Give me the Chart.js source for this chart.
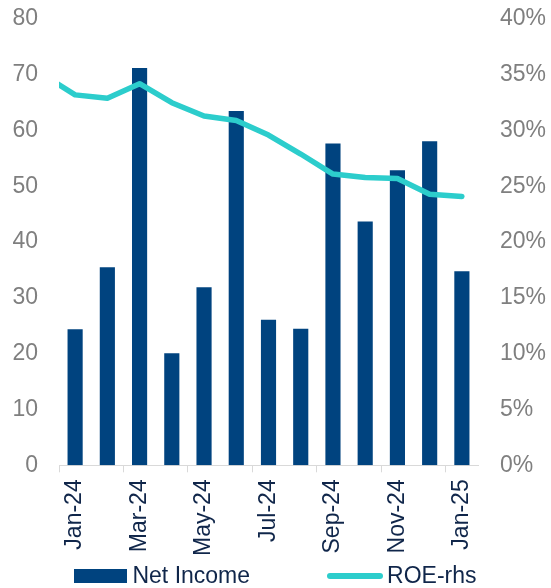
<!DOCTYPE html>
<html>
<head>
<meta charset="utf-8">
<script src="https://cdn.jsdelivr.net/npm/chart.js@4/dist/chart.umd.min.js"></script>
<style>
    html, body { margin: 0; padding: 0; background: #fff; }
    .wrap { position: relative; width: 551px; height: 588px; }
    .legend {
        position: absolute; left: 0; top: 564px; width: 551px;
        display: flex; justify-content: center; align-items: center;
        font: 23px/23px 'Liberation Sans', Arial, sans-serif; color: #10264a;
    }
    .legend .item { display: flex; align-items: center; }
    .legend .item + .item { margin-left: 77px; }
    .swatch-bar { width: 53px; height: 14px; background: #00437f; margin-right: 5px; }
    .swatch-line { width: 56px; height: 6px; border-radius: 3px; background: #2ccdcc; margin-right: 4px; }
</style>
</head>
<body>
<div class="wrap">
    <canvas id="chart" width="551" height="588"></canvas>
    <div class="legend">
        <div class="item"><span class="swatch-bar"></span>Net Income</div>
        <div class="item"><span class="swatch-line"></span>ROE-rhs</div>
    </div>
</div>
<script>
// Dec-23 sits left of the visible range so the ROE line runs into the left edge
const months = ['Dec-23', 'Jan-24', 'Feb-24', 'Mar-24', 'Apr-24', 'May-24', 'Jun-24', 'Jul-24',
    'Aug-24', 'Sep-24', 'Oct-24', 'Nov-24', 'Dec-24', 'Jan-25'];
const netIncome = [null, 24.4, 35.5, 71.2, 20.1, 31.9, 63.5, 26.1, 24.5, 57.7, 43.7, 52.9, 58.1, 34.8];
const roe = [35.0, 33.2, 32.9, 34.2, 32.5, 31.3, 30.9, 29.6, 27.9, 26.1, 25.8, 25.7, 24.3, 24.1];
const leftTicks = [0, 80, 10];
const rightTicks = [0, 40, 5];

const colors = {
    bar: '#00437f',
    line: '#2ccdcc',
    tick: '#7f7f7f',
    label: '#10264a',
    axis: '#d9d9d9',
};

Chart.defaults.font.family = "'Liberation Sans', Arial, sans-serif";

// fixed axis widths; the tick padding would otherwise also push the plot down
function fixAxis(width) {
    return scale => {
        scale.width = width;
        scale.paddingTop = 19;
    };
}

new Chart(document.getElementById('chart'), {
    data: {
        labels: months,
        datasets: [{
            type: 'line',
            label: 'ROE-rhs',
            data: roe,
            yAxisID: 'y1',
            order: 0,
            borderColor: colors.line,
            borderWidth: 5.5,
            borderCapStyle: 'round',
            borderJoinStyle: 'round',
            pointRadius: 0,
            tension: 0,
        }, {
            type: 'bar',
            label: 'Net Income',
            data: netIncome,
            yAxisID: 'y',
            order: 1,
            backgroundColor: colors.bar,
            categoryPercentage: 1,
            barPercentage: 0.47,
        }],
    },
    options: {
        responsive: false,
        animation: false,
        layout: { padding: { top: 0, bottom: 25 } },
        plugins: { legend: { display: false }, tooltip: { enabled: false } },
        scales: {
            x: {
                min: 'Jan-24',
                offset: true,
                border: { color: colors.axis, width: 1 },
                grid: {
                    offset: true,
                    drawOnChartArea: false,
                    tickLength: 7,
                    color: ctx => (ctx.index % 2 === 0 ? colors.axis : 'transparent'),
                },
                ticks: {
                    autoSkip: false,
                    maxRotation: 90,
                    minRotation: 90,
                    padding: 7,
                    color: colors.label,
                    font: { size: 23 },
                    callback(value, index) {
                        return index % 2 === 0 ? this.getLabelForValue(value) : '';
                    },
                },
            },
            y: {
                position: 'left',
                min: leftTicks[0],
                max: leftTicks[1],
                border: { display: false },
                grid: { display: false, drawTicks: false },
                ticks: { stepSize: leftTicks[2], padding: 21, color: colors.tick, font: { size: 23 } },
                afterFit: fixAxis(59),
            },
            y1: {
                position: 'right',
                min: rightTicks[0],
                max: rightTicks[1],
                border: { display: false },
                grid: { display: false, drawTicks: false },
                ticks: {
                    stepSize: rightTicks[2],
                    padding: 22,
                    color: colors.tick,
                    font: { size: 23 },
                    callback: value => `${value}%`,
                },
                afterFit: fixAxis(73),
            },
        },
    },
});
</script>
</body>
</html>
